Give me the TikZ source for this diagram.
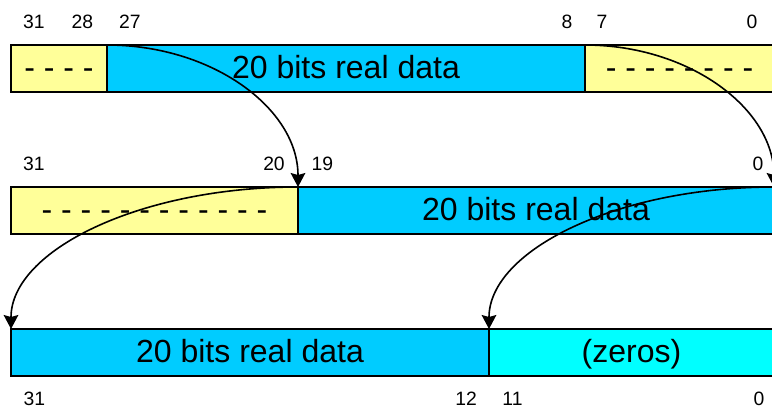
\documentclass[tikz,border=0pt]{standalone}
\usepackage{fontspec}
\setmainfont{Liberation Sans}
\usetikzlibrary{arrows.meta}
\definecolor{padyellow}{HTML}{FFFF99}
\definecolor{datablue}{HTML}{00CCFF}
\definecolor{zerocyan}{HTML}{00FFFF}

\begin{document}
\begin{tikzpicture}[x=0.75pt, y=-0.75pt]
    \tikzset{field/.style={draw, line width=2.2pt, anchor=north west, inner sep=0pt, outer sep=0pt,
            minimum height=35.25pt, text height=15pt, text depth=0pt, font=\fontsize{24}{24}\selectfont},
        bitno/.style={inner sep=0pt, font=\fontsize{14.5}{14.5}\selectfont},
        move/.style={-{Stealth[length=10.5pt, width=11pt, inset=1.5pt]}, line width=1.2pt}}

    \path[use as bounding box, clip] (0,0) rectangle (772,412);

    % Rij 1: bronwoord
    \begin{scope}[shift={(0,45)}]
        \node[field, fill=padyellow, minimum width=72pt] (r1a) at (11,0) {- - - -};
        \node[field, fill=datablue, minimum width=358.5pt] (r1b) at (107,0) {20 bits real data};
        \node[field, fill=padyellow, minimum width=141.75pt] (r1c) at (585,0) {- - - - - - - -};
        \node[bitno] (r1n31) at (34,-23) {31};
        \node[bitno] (r1n28) at (82.5,-23) {28};
        \node[bitno] (r1n27) at (130,-23) {27};
        \node[bitno] (r1n8) at (567,-23) {8};
        \node[bitno] (r1n7) at (602,-23) {7};
        \node[bitno] (r1n0) at (752,-23) {0};
    \end{scope}

    % Rij 2: na de eerste schuif
    \begin{scope}[shift={(0,187)}]
        \node[field, fill=padyellow, minimum width=215.25pt] (r2a) at (11,0) {- - - - - - - - - - - -};
        \node[field, fill=datablue, minimum width=357pt] (r2b) at (298,0) {20 bits real data};
        \node[bitno] (r2n31) at (34,-23) {31};
        \node[bitno] (r2n20) at (274,-23) {20};
        \node[bitno] (r2n19) at (322.5,-23) {19};
        \node[bitno] (r2n0) at (758,-23) {0};
    \end{scope}

    % Rij 3: resultaat
    \begin{scope}[shift={(0,329)}]
        \node[field, fill=datablue, minimum width=358.5pt] (r3a) at (11,0) {20 bits real data};
        \node[field, fill=zerocyan, minimum width=213.75pt] (r3b) at (489,0) {(zeros)};
        \node[bitno] (r3n31) at (34.5,70) {31};
        \node[bitno] (r3n12) at (466,70) {12};
        \node[bitno] (r3n11) at (512.5,70) {11};
        \node[bitno] (r3n0) at (759,70) {0};
    \end{scope}

    % pijlen
    \draw[move] (r1b.north west) .. controls +(105.5,0) and +(0,-78.4) .. (r2a.north east);
    \draw[move] (r1c.north west) .. controls +(104.3,0) and +(0,-78.4) .. (r2b.north east);
    \draw[move] (r2a.north east) .. controls +(-158.4,0) and +(0,-78.4) .. (r3a.north west);
    \draw[move] (r2b.north east) .. controls +(-157.3,0) and +(0,-78.4) .. (r3b.north west);
\end{tikzpicture}
\end{document}
